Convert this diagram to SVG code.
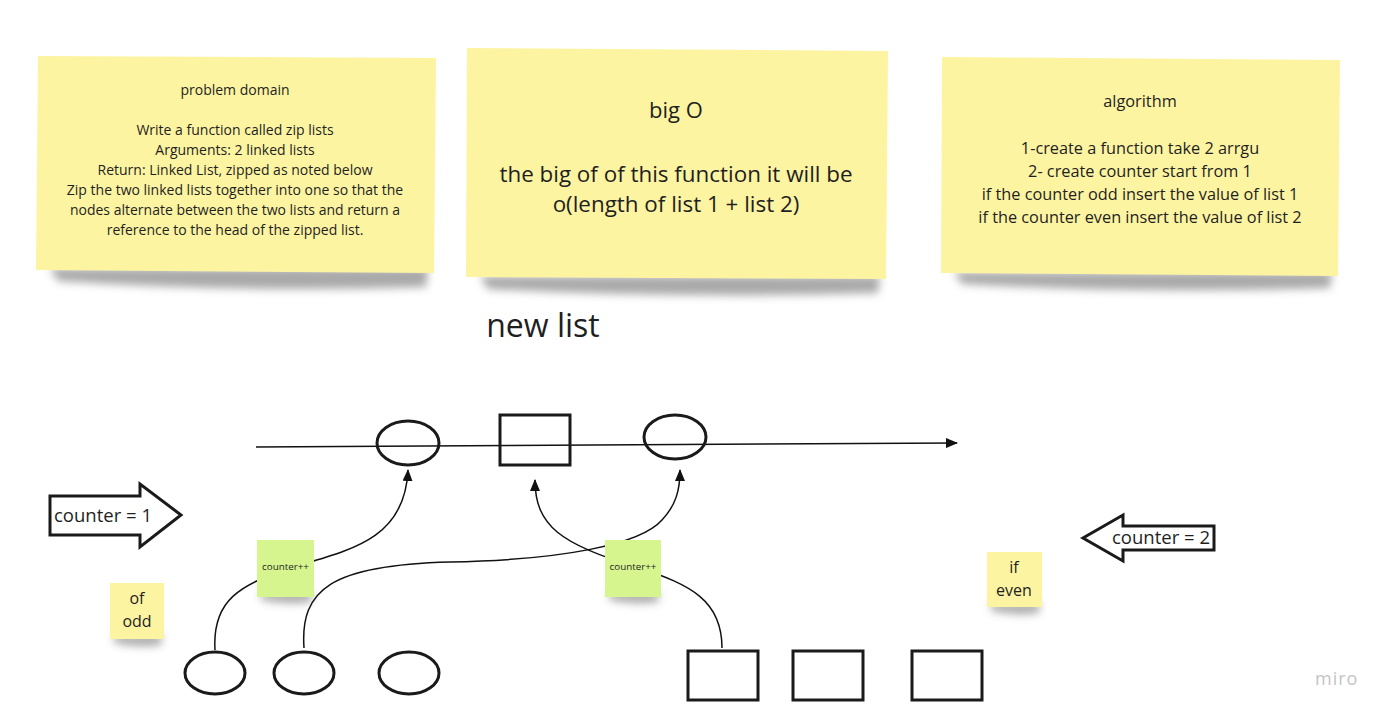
<svg xmlns="http://www.w3.org/2000/svg" width="1392" height="718" viewBox="0 0 1392 718">
<style>
.t{font-family:"Open Sans","Liberation Sans",sans-serif;fill:#1f1f1f;text-anchor:middle}
.yel{fill:#fdf4a2}
.grn{fill:#d6f58f}
.sh{fill:#555;opacity:0.5;filter:url(#blur)}
.shape{fill:none;stroke:#1a1a1a;stroke-width:3}
.conn{fill:none;stroke:#111;stroke-width:1.5}
</style>
<defs>
<filter id="blur" x="-20%" y="-100%" width="140%" height="300%"><feGaussianBlur stdDeviation="4.5"/></filter>
<marker id="ah" markerWidth="12" markerHeight="10" refX="11" refY="5" orient="auto" markerUnits="userSpaceOnUse"><path d="M0,0 L12,5 L0,10 Z" fill="#111"/></marker>
</defs>
<rect width="1392" height="718" fill="#ffffff"/>

<g id="sticky-problem">
<path class="sh" d="M50,268 L428,268 L426,287 Q240,293 58,281 Z"/>
<path class="yel" d="M38,56 L436,58 L434,273 L36,270 Z"/>
<text class="t" font-size="14" x="235" y="95">problem domain</text>
<text class="t" font-size="14" x="235" y="135">Write a function called zip lists</text>
<text class="t" font-size="14" x="235" y="155">Arguments: 2 linked lists</text>
<text class="t" font-size="14" x="235" y="175">Return: Linked List, zipped as noted below</text>
<text class="t" font-size="14" x="235" y="195">Zip the two linked lists together into one so that the</text>
<text class="t" font-size="14" x="235" y="215">nodes alternate between the two lists and return a</text>
<text class="t" font-size="14" x="235" y="235">reference to the head of the zipped list.</text>
</g>

<g id="sticky-bigo">
<path class="sh" d="M480,276 L880,276 L878,293 Q680,299 488,289 Z"/>
<path class="yel" d="M467,48 L888,51 L886,279 L466,277 Z"/>
<text class="t" font-size="22" x="676" y="118">big O</text>
<text class="t" font-size="22.4" x="676" y="182">the big of of this function it will be</text>
<text class="t" font-size="22.4" x="676" y="212">o(length of list 1 + list 2)</text>
</g>

<g id="sticky-algorithm">
<path class="sh" d="M954,272 L1332,272 L1330,288 Q1140,294 962,284 Z"/>
<path class="yel" d="M942,57 L1340,60 L1338,276 L941,273 Z"/>
<text class="t" font-size="16.3" x="1140" y="107">algorithm</text>
<text class="t" font-size="16.3" x="1140" y="154">1-create a function take 2 arrgu</text>
<text class="t" font-size="16.3" x="1140" y="177">2- create counter start from 1</text>
<text class="t" font-size="16.3" x="1140" y="200">if the counter odd insert the value of list 1</text>
<text class="t" font-size="16.3" x="1140" y="223">if the counter even insert the value of list 2</text>
</g>

<g id="label-newlist">
<text class="t" font-size="32" x="543" y="337">new list</text>
</g>

<g id="connectors">
<path class="conn" d="M256,447 L957,443" marker-end="url(#ah)"/>
<path class="conn" d="M215,650 C212,600 240,585 290,568 C350,550 405,540 408,470" marker-end="url(#ah)"/>
<path class="conn" d="M304,648 C300,590 330,565 450,562 C560,560 640,545 662,520 C676,505 680,490 680,470" marker-end="url(#ah)"/>
<path class="conn" d="M722,648 C722,600 690,585 640,568 C560,545 535,525 535,480" marker-end="url(#ah)"/>
</g>

<g id="list-node-1"><ellipse class="shape" cx="408" cy="443" rx="31" ry="22"/></g>
<g id="list-node-2"><rect class="shape" x="500" y="415" width="70" height="50"/></g>
<g id="list-node-3"><ellipse class="shape" cx="675" cy="437" rx="31" ry="22"/></g>

<g id="counter-inc-1">
<path class="sh" d="M260,592 L312,592 L311,602 Q285,605 262,600 Z"/>
<rect class="grn" x="257" y="540" width="57" height="57"/>
<text class="t" font-size="9.8" x="285.5" y="570">counter++</text>
</g>
<g id="counter-inc-2">
<path class="sh" d="M608,592 L659,592 L658,602 Q633,605 610,600 Z"/>
<rect class="grn" x="605" y="540" width="56" height="57"/>
<text class="t" font-size="9.8" x="633" y="570">counter++</text>
</g>

<g id="arrow-counter1">
<path d="M50,496 L140,496 L140,484 L181,515 L140,547 L140,535 L50,535 Z" fill="#fff" stroke="#1a1a1a" stroke-width="3"/>
<text class="t" font-size="18.5" x="103" y="522">counter = 1</text>
</g>
<g id="arrow-counter2">
<path d="M1214,526 L1123,526 L1123,515 L1083,538 L1123,561 L1123,550 L1214,550 Z" fill="#fff" stroke="#1a1a1a" stroke-width="3"/>
<text class="t" font-size="18.5" x="1161" y="544">counter = 2</text>
</g>

<g id="sticky-odd">
<path class="sh" d="M113,635 L162,635 L161,645 Q137,648 115,643 Z"/>
<rect class="yel" x="110" y="583" width="54" height="56"/>
<text class="t" font-size="16" x="137" y="604">of</text>
<text class="t" font-size="16" x="137" y="627">odd</text>
</g>
<g id="sticky-even">
<path class="sh" d="M990,603 L1040,603 L1039,613 Q1015,616 992,611 Z"/>
<rect class="yel" x="987" y="552" width="55" height="55"/>
<text class="t" font-size="16" x="1014" y="573">if</text>
<text class="t" font-size="16" x="1014" y="596">even</text>
</g>

<g id="list1-node-1"><ellipse class="shape" cx="215" cy="673" rx="30" ry="21"/></g>
<g id="list1-node-2"><ellipse class="shape" cx="304" cy="673" rx="30" ry="21"/></g>
<g id="list1-node-3"><ellipse class="shape" cx="409" cy="673" rx="30" ry="21"/></g>
<g id="list2-node-1"><rect class="shape" x="688" y="651" width="70" height="49"/></g>
<g id="list2-node-2"><rect class="shape" x="793" y="651" width="70" height="49"/></g>
<g id="list2-node-3"><rect class="shape" x="912" y="651" width="70" height="49"/></g>

<g id="logo">
<text font-family="'Open Sans','Liberation Sans',sans-serif" font-size="18" fill="#c4c4c4" x="1315" y="685" letter-spacing="1">miro</text>
</g>
</svg>
